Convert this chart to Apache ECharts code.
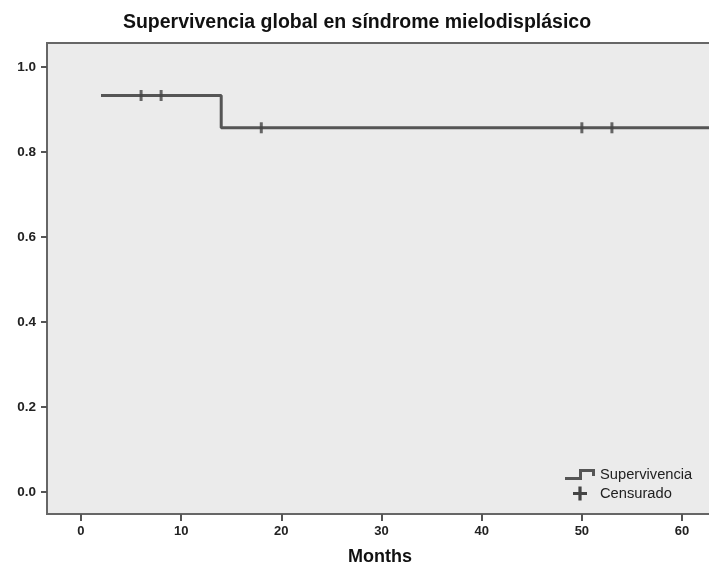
<!DOCTYPE html>
<html>
<head>
<meta charset="utf-8">
<script src="https://cdn.jsdelivr.net/npm/echarts@6/dist/echarts.min.js"></script>
<style>
html,body{margin:0;padding:0;background:#fff;}
#chart{width:709px;height:567px;}
</style>
</head>
<body>
<div id="chart"></div>
<script>
// Kaplan-Meier step points (months, survival)
const survMonths = [2, 14, 14, 66];
const survValues = [0.933, 0.933, 0.857, 0.857];
// Censored observations
const censorMonths = [6, 8, 18, 50, 53];
const censorValues = [0.933, 0.933, 0.857, 0.857, 0.857];
// Tick labels
const xTicks = [0, 10, 20, 30, 40, 50, 60];
const yTicks = [0, 0.2, 0.4, 0.6, 0.8, 1.0];

const titleText = 'Supervivencia global en síndrome mielodisplásico';
const xName = 'Months';
const seriesName = 'Supervivencia';
const censorName = 'Censurado';

const survData = survMonths.map((m, i) => [m, survValues[i]]);
const censorData = censorMonths.map((m, i) => [m, censorValues[i]]);

const chart = echarts.init(document.getElementById('chart'));
const fontFam = 'Liberation Sans, Arial, sans-serif';
chart.setOption({
  animation: false,
  backgroundColor: '#ffffff',
  title: {
    text: titleText,
    left: 352, top: 8, textAlign: 'center',
    textStyle: {fontFamily: fontFam, fontSize: 19.5, fontWeight: 'bold', color: '#111'}
  },
  grid: {
    left: 47, top: 43, right: -4, bottom: 53,
    outerBoundsMode: 'none', containLabel: false,
    show: true, backgroundColor: '#ebebeb', borderColor: '#666', borderWidth: 2
  },
  xAxis: {
    type: 'value', min: -3.39, max: 63.09,
    name: xName, nameLocation: 'middle', nameGap: 34,
    nameTextStyle: {fontFamily: fontFam, fontSize: 18, fontWeight: 'bold', color: '#111'},
    splitLine: {show: false},
    axisLine: {show: false, onZero: false},
    axisTick: {show: true, length: 7, inside: false, customValues: xTicks, lineStyle: {color: '#555', width: 2}},
    axisLabel: {customValues: xTicks, margin: 11, fontFamily: fontFam, fontSize: 13, fontWeight: 'bold', color: '#222'}
  },
  yAxis: {
    type: 'value', min: -0.0518, max: 1.0565,
    splitLine: {show: false},
    axisLine: {show: false, onZero: false},
    axisTick: {show: true, length: 6, inside: false, customValues: yTicks, lineStyle: {color: '#555', width: 2}},
    axisLabel: {customValues: yTicks, margin: 11, fontFamily: fontFam, fontSize: 13.5, fontWeight: 'bold', color: '#222',
      formatter: v => v.toFixed(1)}
  },
  legend: [
    {
      data: [{name: seriesName, icon: 'path://M0,8 H14 V0 H30 V7 H27 V3 H17 V11 H0 Z'}],
      left: 560, top: 462, itemWidth: 30, itemHeight: 11, itemGap: 4,
      textStyle: {fontFamily: fontFam, fontSize: 14.7, color: '#222'},
      selectedMode: false
    },
    {
      data: [{name: censorName, icon: 'path://M5,0 H8 V5 H13 V8 H8 V13 H5 V8 H0 V5 H5 Z'}],
      left: 568, top: 481, itemWidth: 30, itemHeight: 14, itemGap: 4, symbolKeepAspect: true,
      itemStyle: {color: '#1a1a1a'},
      textStyle: {fontFamily: fontFam, fontSize: 14.7, color: '#222'},
      selectedMode: false
    }
  ],
  series: [
    {
      name: seriesName, type: 'line', data: survData, showSymbol: false, symbol: 'none',
      lineStyle: {color: '#555', width: 3}, itemStyle: {color: '#555'}, clip: true, z: 3
    },
    {
      name: censorName, type: 'scatter', data: censorData, symbol: 'rect', symbolSize: [3, 11],
      itemStyle: {color: '#444'}, z: 4
    }
  ]
});
</script>
</body>
</html>
